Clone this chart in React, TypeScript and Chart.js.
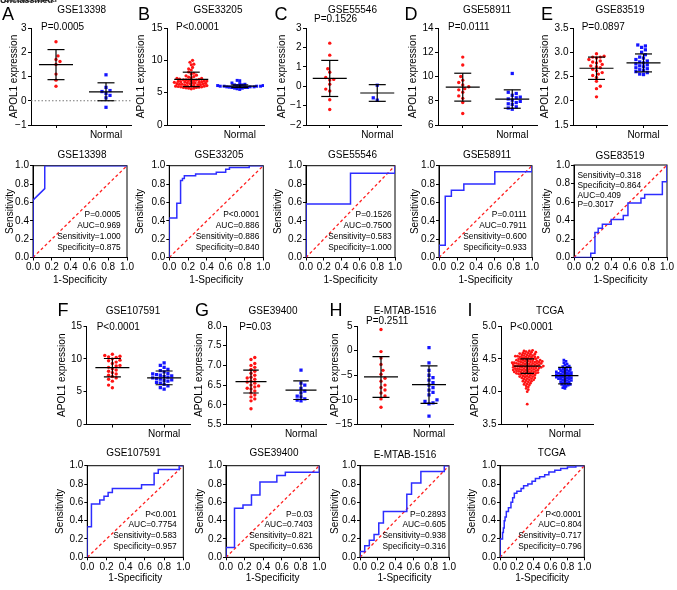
import React, { useEffect, useRef } from "react";
import { Chart, registerables } from "chart.js";
Chart.register(...registerables);

const FONT = "'Liberation Sans', Arial, Helvetica, sans-serif";
Chart.defaults.font.family = FONT;
Chart.defaults.font.size = 10;
Chart.defaults.color = "#000";

const RED = "#ff1414";
const BLUE = "#1414ff";
const LINE_BLUE = "#2d2dff";
const DIAG_RED = "#ff2020";

// ---------------- data ----------------
const datasetTitles = ["GSE13398", "GSE33205", "GSE55546", "GSE58911", "GSE83519", "GSE107591", "GSE39400", "E-MTAB-1516", "TCGA"];
const panelLetters = ["A", "B", "C", "D", "E", "F", "G", "H", "I"];
const pValues = ["P=0.0005", "P<0.0001", "P=0.1526", "P=0.0111", "P=0.0897", "P<0.0001", "P=0.03", "P=0.2511", "P<0.0001"];
const groupLabels = ["", "Normal"];

const tumorA = [2.43, 1.85, 1.7, 1.62, 1.5, 1.1, 0.85, 0.6];
const normalA = [1.07, 0.55, 0.42, 0.38, 0.3, 0.22, 0.12, -0.27];
const tumorB = [10.0, 9.7, 9.4, 9.3, 8.9, 8.7, 8.5, 8.2, 8.0, 7.9, 7.7, 7.6, 7.5, 7.4, 7.3, 7.2, 7.2, 7.1, 7.05, 7.0, 7.0, 6.95, 6.9, 6.9, 6.85, 6.8, 6.8, 6.75, 6.7, 6.7, 6.65, 6.6, 6.6, 6.55, 6.5, 6.5, 6.45, 6.4, 6.4, 6.35, 6.3, 6.3, 6.25, 6.2, 6.2, 6.15, 6.1, 6.1, 6.05, 6.0, 6.0, 5.95, 5.9, 5.9, 5.85, 5.8, 5.8, 5.75, 5.7, 5.7, 5.6];
const normalB = [6.9, 6.85, 6.5, 6.4, 6.3, 6.2, 6.2, 6.1, 6.1, 6.1, 6.0, 6.0, 6.0, 6.0, 5.95, 5.9, 5.9, 5.9, 5.85, 5.8, 5.8, 5.8, 5.7, 5.7, 5.6, 5.5];
const tumorC = [2.22, 1.6, 0.9, 0.72, 0.45, 0.35, 0.32, 0.1, -0.15, -0.25, -0.7, -1.2];
const normalC = [0.05, -0.6, -0.72];
const tumorD = [11.6, 10.95, 10.0, 9.7, 9.5, 9.3, 9.15, 9.0, 8.9, 8.7, 8.4, 8.2, 7.85, 6.95];
const normalD = [10.25, 8.7, 8.6, 8.45, 8.3, 8.25, 8.15, 8.05, 7.95, 7.85, 7.75, 7.7, 7.5, 7.4, 7.3];
const tumorE = [2.97, 2.92, 2.9, 2.9, 2.88, 2.85, 2.82, 2.8, 2.78, 2.75, 2.72, 2.7, 2.68, 2.65, 2.62, 2.58, 2.55, 2.52, 2.48, 2.4, 2.3, 2.25, 2.08];
const normalE = [3.15, 3.13, 3.1, 3.05, 3.0, 2.95, 2.9, 2.88, 2.85, 2.82, 2.8, 2.78, 2.76, 2.74, 2.72, 2.7, 2.68, 2.66, 2.64, 2.62, 2.6, 2.58, 2.55, 2.54];
const tumorF = [10.7, 10.5, 10.4, 10.3, 10.2, 10.0, 9.8, 9.7, 9.5, 9.3, 9.0, 8.9, 8.7, 8.5, 8.3, 8.1, 7.9, 7.7, 7.5, 7.3, 7.1, 6.9, 6.6, 6.0, 5.6];
const normalF = [9.4, 9.0, 8.7, 8.4, 8.2, 8.0, 7.8, 7.7, 7.6, 7.5, 7.4, 7.3, 7.2, 7.1, 7.0, 6.9, 6.8, 6.7, 6.6, 6.4, 6.3, 6.1, 5.9, 5.6, 5.4];
const tumorG = [7.2, 7.15, 7.05, 7.0, 6.95, 6.9, 6.85, 6.8, 6.75, 6.7, 6.68, 6.65, 6.6, 6.58, 6.55, 6.5, 6.48, 6.45, 6.42, 6.4, 6.35, 6.3, 6.25, 6.2, 6.15, 6.1, 5.9];
const normalG = [6.88, 6.55, 6.5, 6.42, 6.35, 6.3, 6.22, 6.2, 6.15, 6.12, 6.1];
const tumorH = [4.3, -0.2, -1.5, -2.8, -4.0, -4.8, -5.6, -6.2, -7.0, -7.5, -8.0, -8.6, -9.2, -9.8, -11.5];
const normalH = [0.6, -2.5, -4.0, -5.0, -5.5, -6.0, -6.5, -7.0, -7.5, -8.0, -8.5, -9.0, -10.0, -10.3, -10.6, -10.8, -13.3];
const tumorI = [
  4.63, 4.62, 4.62, 4.61, 4.6, 4.6,
  4.59, 4.59, 4.58, 4.58, 4.57, 4.57, 4.56, 4.56, 4.55, 4.55,
  4.54, 4.54, 4.54, 4.53, 4.53, 4.53, 4.52, 4.52, 4.52, 4.51, 4.51, 4.5, 4.5, 4.5,
  4.49, 4.49, 4.49, 4.48, 4.48, 4.48, 4.47, 4.47, 4.47, 4.46, 4.46, 4.46, 4.45, 4.45, 4.45, 4.45,
  4.44, 4.44, 4.44, 4.44, 4.43, 4.43, 4.43, 4.43, 4.42, 4.42, 4.42, 4.41, 4.41, 4.41, 4.41, 4.4, 4.4, 4.4,
  4.39, 4.39, 4.39, 4.39, 4.38, 4.38, 4.38, 4.38, 4.37, 4.37, 4.37, 4.36, 4.36, 4.36, 4.36, 4.35, 4.35, 4.35,
  4.34, 4.34, 4.34, 4.33, 4.33, 4.33, 4.33, 4.32, 4.32, 4.32, 4.31, 4.31, 4.31, 4.3, 4.3, 4.3,
  4.29, 4.29, 4.29, 4.28, 4.28, 4.28, 4.27, 4.27, 4.27, 4.26, 4.26, 4.25, 4.25,
  4.24, 4.24, 4.23, 4.23, 4.22, 4.22, 4.21, 4.21, 4.2, 4.2,
  4.19, 4.18, 4.18, 4.17, 4.16, 4.16, 4.15,
  4.14, 4.13, 4.12, 4.11, 4.1,
  4.09, 4.07, 4.05, 4.03, 4.0, 3.81,
];
const normalI = [
  4.48, 4.46, 4.44, 4.42, 4.41, 4.39, 4.38, 4.37, 4.36, 4.35,
  4.34, 4.34, 4.33, 4.32, 4.32, 4.31, 4.3, 4.3,
  4.29, 4.29, 4.28, 4.28, 4.27, 4.27, 4.26, 4.26, 4.25, 4.25,
  4.24, 4.24, 4.23, 4.23, 4.22, 4.22, 4.21, 4.21, 4.2, 4.2,
  4.19, 4.19, 4.18, 4.17, 4.17, 4.16, 4.15, 4.15,
  4.14, 4.13, 4.12, 4.11, 4.11, 4.1, 4.09, 4.08, 4.06, 4.05,
];

const tumorSets = [tumorA, tumorB, tumorC, tumorD, tumorE, tumorF, tumorG, tumorH, tumorI];
const normalSets = [normalA, normalB, normalC, normalD, normalE, normalF, normalG, normalH, normalI];
const meanTumor = [1.49, 7.05, 0.4, 9.12, 2.67, 8.65, 6.59, -5.35, 4.39];
const sdTumor = [0.62, 1.12, 0.93, 1.15, 0.23, 1.4, 0.29, 4.15, 0.11];
const meanNormal = [0.37, 6.0, -0.35, 8.14, 2.78, 7.1, 6.37, -6.9, 4.245];
const sdNormal = [0.37, 0.2, 0.43, 0.76, 0.185, 1.05, 0.235, 3.8, 0.125];
const referenceLine: (number | null)[] = [0, null, null, null, null, null, null, null, null];

// ROC curves (1-specificity, sensitivity)
const fprA = [0, 0, 0.125, 0.125, 1];
const tprA = [0, 0.625, 0.75, 1, 1];
const fprB = [0, 0, 0.08, 0.08, 0.12, 0.12, 0.14, 0.14, 0.16, 0.16, 0.28, 0.28, 0.5, 0.5, 0.6, 0.6, 0.64, 0.64, 0.85, 0.85, 1];
const tprB = [0, 0.43, 0.43, 0.59, 0.59, 0.84, 0.84, 0.86, 0.86, 0.89, 0.89, 0.91, 0.91, 0.93, 0.93, 0.96, 0.96, 0.98, 0.98, 1, 1];
const fprC = [0, 0, 0.5, 0.5, 1, 1];
const tprC = [0, 0.583, 0.583, 0.917, 0.917, 1];
const fprD = [0, 0, 0.067, 0.067, 0.133, 0.133, 0.267, 0.267, 0.6, 0.6, 1, 1];
const tprD = [0, 0.133, 0.133, 0.667, 0.667, 0.733, 0.733, 0.8, 0.8, 0.933, 0.933, 1];
const fprE = [0, 0.18, 0.18, 0.225, 0.225, 0.26, 0.26, 0.305, 0.305, 0.4, 0.4, 0.53, 0.53, 0.58, 0.58, 0.72, 0.72, 0.76, 0.76, 0.95, 0.95, 1, 1];
const tprE = [0, 0, 0.045, 0.045, 0.27, 0.27, 0.315, 0.315, 0.36, 0.36, 0.41, 0.41, 0.455, 0.455, 0.59, 0.59, 0.64, 0.64, 0.68, 0.68, 0.82, 0.82, 1];
const fprF = [0, 0, 0.043, 0.043, 0.13, 0.13, 0.174, 0.174, 0.217, 0.217, 0.261, 0.261, 0.565, 0.565, 0.696, 0.696, 0.739, 0.739, 0.957, 0.957, 1];
const tprF = [0, 0.333, 0.333, 0.583, 0.583, 0.625, 0.625, 0.667, 0.667, 0.708, 0.708, 0.75, 0.75, 0.792, 0.792, 0.917, 0.917, 0.958, 0.958, 1, 1];
const fprG = [0, 0, 0.091, 0.091, 0.182, 0.182, 0.273, 0.273, 0.364, 0.364, 0.545, 0.545, 0.636, 0.636, 1, 1];
const tprG = [0, 0.107, 0.107, 0.536, 0.536, 0.571, 0.571, 0.679, 0.679, 0.821, 0.821, 0.893, 0.893, 0.929, 0.929, 1];
const fprH = [0, 0, 0.053, 0.053, 0.105, 0.105, 0.158, 0.158, 0.211, 0.211, 0.263, 0.263, 0.526, 0.526, 0.579, 0.579, 0.684, 0.684, 0.947, 0.947, 1];
const tprH = [0, 0.0625, 0.0625, 0.125, 0.125, 0.1875, 0.1875, 0.25, 0.25, 0.375, 0.375, 0.5, 0.5, 0.6875, 0.6875, 0.8125, 0.8125, 0.9375, 0.9375, 1, 1];
const fprI = [0, 0, 0.03, 0.03, 0.04, 0.04, 0.05, 0.05, 0.06, 0.06, 0.075, 0.075, 0.1, 0.1, 0.13, 0.13, 0.15, 0.15, 0.17, 0.17, 0.2, 0.2, 0.25, 0.25, 0.28, 0.28, 0.33, 0.33, 0.38, 0.38, 0.42, 0.42, 0.47, 0.47, 0.53, 0.53, 0.58, 0.58, 0.65, 0.65, 0.72, 0.72, 0.8, 0.8, 0.9, 0.9, 1];
const tprI = [0, 0.2, 0.2, 0.27, 0.27, 0.32, 0.32, 0.4, 0.4, 0.44, 0.44, 0.5, 0.5, 0.54, 0.54, 0.6, 0.6, 0.65, 0.65, 0.7, 0.7, 0.72, 0.72, 0.75, 0.75, 0.78, 0.78, 0.8, 0.8, 0.83, 0.83, 0.86, 0.86, 0.88, 0.88, 0.9, 0.9, 0.93, 0.93, 0.95, 0.95, 0.97, 0.97, 0.985, 0.985, 1, 1];
const rocFpr = [fprA, fprB, fprC, fprD, fprE, fprF, fprG, fprH, fprI];
const rocTpr = [tprA, tprB, tprC, tprD, tprE, tprF, tprG, tprH, tprI];
const rocStats = [
  ["P=0.0005", "AUC=0.969", "Sensitivity=1.000", "Specificity=0.875"],
  ["P<0.0001", "AUC=0.886", "Sensitivity=0.886", "Specificity=0.840"],
  ["P=0.1526", "AUC=0.7500", "Sensitivity=0.583", "Specificity=1.000"],
  ["P=0.0111", "AUC=0.7911", "Sensitivity=0.600", "Specificity=0.933"],
  ["Sensitivity=0.318", "Specificity=0.864", "AUC=0.409", "P=0.3017"],
  ["P<0.001", "AUC=0.7754", "Sensitivity=0.583", "Specificity=0.957"],
  ["P=0.03", "AUC=0.7403", "Sensitivity=0.821", "Specificity=0.636"],
  ["P=0.2893", "AUC=0.605", "Sensitivity=0.938", "Specificity=0.316"],
  ["P<0.0001", "AUC=0.804", "Sensitivity=0.717", "Specificity=0.796"],
];
const rocTicks = [0, 0.2, 0.4, 0.6, 0.8, 1.0];

// ---------------- layout (page pixels) ----------------
type SL = { L: number; R: number; T: number; B: number; ymin: number; ymax: number; step: number; dec: number; yTitleX: number; titleX: number; titleY: number; pX: number; pY: number; centers: number[]; hm: number; d: number; rr: number; rb: number };
const scatterLayout: SL[] = [
  { L: 31, R: 131, T: 28, B: 125, ymin: -1, ymax: 3, step: 1, dec: 0, yTitleX: 14, titleX: 81.7, titleY: 10, pX: 41, pY: 27.7, centers: [0.5, 1.5], hm: 17, d: 4, rr: 1.7, rb: 2.3 },
  { L: 167, R: 264, T: 28, B: 125, ymin: 0, ymax: 15, step: 5, dec: 0, yTitleX: 140.7, titleX: 218, titleY: 10, pX: 176, pY: 27.7, centers: [0.5, 1.5], hm: 17, d: 2.6, rr: 1.6, rb: 2.1 },
  { L: 306, R: 401, T: 28, B: 125, ymin: -2, ymax: 3, step: 1, dec: 0, yTitleX: 282, titleX: 352.5, titleY: 10, pX: 314, pY: 19.3, centers: [0.5, 1.5], hm: 17, d: 4, rr: 1.7, rb: 2.3 },
  { L: 438, R: 537, T: 28, B: 125, ymin: 6, ymax: 14, step: 2, dec: 0, yTitleX: 413.3, titleX: 487, titleY: 10, pX: 448, pY: 27.7, centers: [0.5, 1.5], hm: 17, d: 4, rr: 1.7, rb: 2.3 },
  { L: 573, R: 667, T: 28, B: 125, ymin: 1.5, ymax: 3.5, step: 0.5, dec: 1, yTitleX: 545, titleX: 620, titleY: 10, pX: 581.7, pY: 27.7, centers: [0.5, 1.5], hm: 17, d: 3.8, rr: 1.7, rb: 2.3 },
  { L: 86.5, R: 190, T: 326, B: 424.5, ymin: 0, ymax: 15, step: 5, dec: 0, yTitleX: 61.7, titleX: 133, titleY: 311, pX: 96.7, pY: 327.3, centers: [0.5, 1.5], hm: 17, d: 3.8, rr: 1.7, rb: 2.3 },
  { L: 226, R: 326, T: 326, B: 424.5, ymin: 5.5, ymax: 8.0, step: 0.5, dec: 1, yTitleX: 199.3, titleX: 273, titleY: 311, pX: 239.3, pY: 327.3, centers: [0.5, 1.5], hm: 15.5, d: 3.8, rr: 1.7, rb: 2.3 },
  { L: 357, R: 453, T: 326, B: 424.5, ymin: -15, ymax: 5, step: 5, dec: 0, yTitleX: 335, titleX: 405, titleY: 311, pX: 366, pY: 321.7, centers: [0.5, 1.5], hm: 17, d: 4, rr: 1.7, rb: 2.3 },
  { L: 501, R: 593, T: 326, B: 424.5, ymin: 3.5, ymax: 5.0, step: 0.5, dec: 1, yTitleX: 475, titleX: 550, titleY: 311, pX: 510, pY: 327.3, centers: [0.57, 1.39], hm: 13.5, d: 2.15, rr: 1.4, rb: 1.9 },
];
type RL = { L: number; R: number; T: number; B: number; yTitleX: number; titleX: number; titleY: number; xTitleY: number; ann: "right" | "left"; off: number };
const rocLayout: RL[] = [
  { L: 33, R: 127, T: 165.7, B: 257.5, yTitleX: 10, titleX: 82, titleY: 155.7, xTitleY: 280, ann: "right", off: 6.3 },
  { L: 169.3, R: 263.3, T: 165.7, B: 257.5, yTitleX: 140.3, titleX: 219, titleY: 155.7, xTitleY: 280, ann: "right", off: 4 },
  { L: 306, R: 395, T: 165.7, B: 257.5, yTitleX: 278.3, titleX: 352.5, titleY: 155.7, xTitleY: 280, ann: "right", off: 3.3 },
  { L: 439, R: 532, T: 165.7, B: 257.5, yTitleX: 415, titleX: 487, titleY: 155.7, xTitleY: 280, ann: "right", off: 5.3 },
  { L: 574, R: 667, T: 165, B: 257.5, yTitleX: 546.7, titleX: 620, titleY: 156, xTitleY: 280, ann: "left", off: 3.5 },
  { L: 87.3, R: 183.3, T: 465.7, B: 557.3, yTitleX: 60, titleX: 133.5, titleY: 453.3, xTitleY: 577.7, ann: "right", off: 6.6 },
  { L: 226, R: 319.3, T: 465.7, B: 557.3, yTitleX: 200, titleX: 274, titleY: 453.3, xTitleY: 577.7, ann: "right", off: 6.6 },
  { L: 360, R: 449, T: 465.7, B: 557.3, yTitleX: 335, titleX: 405, titleY: 455.5, xTitleY: 577.7, ann: "right", off: 3 },
  { L: 500, R: 584.3, T: 465.7, B: 557.3, yTitleX: 471.7, titleX: 551.7, titleY: 453.3, xTitleY: 577.7, ann: "right", off: 2.6 },
];
const letterPos = [
  [8, 13.7], [144, 13.7], [281, 13.7], [411, 13.7], [547, 13.7],
  [63, 309.5], [202, 309.5], [336, 309.5], [470, 309.5],
];

// ---------------- helpers ----------------
type TextItem = { text: string; x: number; y: number; size: number; align: CanvasTextAlign };

function textPlugin(items: TextItem[], ox: number, oy: number) {
  return {
    id: "panelText",
    afterDraw(chart: any) {
      const ctx = chart.ctx as CanvasRenderingContext2D;
      ctx.save();
      for (const it of items) {
        ctx.font = `${it.size}px ${FONT}`;
        ctx.fillStyle = "#000";
        ctx.textAlign = it.align;
        ctx.textBaseline = "middle";
        ctx.fillText(it.text, it.x - ox, it.y - oy);
      }
      ctx.restore();
    },
  };
}

const boxPlugin = {
  id: "panelBox",
  beforeDatasetsDraw(chart: any) {
    const { ctx, chartArea } = chart;
    ctx.save();
    ctx.strokeStyle = "#000";
    ctx.lineWidth = 1;
    ctx.strokeRect(chartArea.left, chartArea.top, chartArea.right - chartArea.left, chartArea.bottom - chartArea.top);
    ctx.restore();
  },
};

function fmt(dec: number) {
  return (v: any) => {
    let n = Number(v);
    if (Math.abs(n) < 1e-9) n = 0;
    const s = n.toFixed(dec);
    return s.startsWith("-") ? "\u2212" + s.slice(1) : s;
  };
}

function swarm(vals: number[], cx: number, xPx: number, yPx: number, d: number) {
  const order = vals.map((_, k) => k).sort((a, b) => vals[a] - vals[b]);
  const placed: { x: number; y: number }[] = [];
  const res: { x: number; y: number }[] = new Array(vals.length);
  const s = d * 0.5;
  for (const k of order) {
    const py = vals[k] * yPx;
    const flip = placed.length % 2 === 1 ? -1 : 1;
    let off = 0;
    for (let n = 0; n < 600; n++) {
      const m = Math.ceil(n / 2);
      const cand = n === 0 ? 0 : (n % 2 ? m : -m) * s * flip;
      let ok = true;
      for (const p of placed) {
        const dy = p.y - py;
        if (Math.abs(dy) < d) {
          const dx = p.x - cand;
          if (dx * dx + dy * dy < d * d) {
            ok = false;
            break;
          }
        }
      }
      if (ok) {
        off = cand;
        break;
      }
    }
    placed.push({ x: off, y: py });
    res[k] = { x: cx + off / xPx, y: vals[k] };
  }
  return res;
}

const axisGrid = { drawOnChartArea: false, drawTicks: true, tickLength: 3, color: "#000", lineWidth: 1 };
const axisBorder = { display: true, color: "#000", width: 1 };

// ---------------- panels ----------------
function ScatterPanel({ k }: { k: number }) {
  const lay = scatterLayout[k];
  const left = Math.round(lay.yTitleX - 6);
  const top = Math.round(lay.titleY - 9);
  const width = Math.ceil(lay.R + 8 - left);
  const height = Math.ceil(lay.B + 18 - top);
  const ref = useRef<HTMLCanvasElement>(null);
  useEffect(() => {
    const padL = lay.L - left;
    const padT = lay.T - top;
    const padR = width - (lay.R - left);
    const axisH = height - (lay.B - top);
    const xPx = (lay.R - lay.L) / 2;
    const yPx = (lay.B - lay.T) / (lay.ymax - lay.ymin);
    const [c0, c1] = lay.centers;
    const seg = (pts: { x: number; y: number }[]) => ({
      data: pts, showLine: true, borderColor: "#000", borderWidth: 1.2, pointRadius: 0, fill: false, order: 1,
    });
    const bars = (c: number, m: number, s: number) => {
      const h = lay.hm / xPx;
      const h2 = lay.hm / 2 / xPx;
      return [
        seg([{ x: c - h, y: m }, { x: c + h, y: m }]),
        seg([{ x: c - h2, y: m + s }, { x: c + h2, y: m + s }]),
        seg([{ x: c - h2, y: m - s }, { x: c + h2, y: m - s }]),
        seg([{ x: c, y: m - s }, { x: c, y: m + s }]),
      ];
    };
    const datasets: any[] = [
      {
        data: swarm(tumorSets[k], c0, xPx, yPx, lay.d), pointStyle: "circle", pointRadius: lay.rr,
        pointBackgroundColor: RED, pointBorderColor: RED, pointBorderWidth: 0, backgroundColor: RED, order: 3,
      },
      {
        data: swarm(normalSets[k], c1, xPx, yPx, lay.d), pointStyle: "rect", pointRadius: lay.rb,
        pointBackgroundColor: BLUE, pointBorderColor: BLUE, pointBorderWidth: 0, backgroundColor: BLUE, order: 3,
      },
      ...bars(c0, meanTumor[k], sdTumor[k]),
      ...bars(c1, meanNormal[k], sdNormal[k]),
    ];
    const rl = referenceLine[k];
    if (rl !== null) {
      datasets.push({
        data: [{ x: 0, y: rl }, { x: 2, y: rl }], showLine: true, borderColor: "#777", borderWidth: 1,
        borderDash: [1.5, 2], pointRadius: 0, order: 5,
      });
    }
    const items: TextItem[] = [
      { text: datasetTitles[k], x: lay.titleX, y: lay.titleY, size: 10, align: "center" },
      { text: pValues[k], x: lay.pX, y: lay.pY, size: 10, align: "left" },
    ];
    const chart = new Chart(ref.current as HTMLCanvasElement, {
      type: "scatter",
      data: { datasets },
      plugins: [textPlugin(items, left, top)],
      options: {
        responsive: false, animation: false, events: [],
        layout: { padding: { left: 0, top: padT, right: padR, bottom: 0 } },
        plugins: { legend: { display: false }, tooltip: { enabled: false } },
        scales: {
          x: {
            type: "linear", min: 0, max: 2,
            afterBuildTicks: (s: any) => { s.ticks = lay.centers.map((v) => ({ value: v })); },
            afterFit: (s: any) => { s.height = axisH; },
            ticks: { callback: (_v: any, i: number) => groupLabels[i], autoSkip: false, maxRotation: 0, padding: 1, font: { size: 10 } },
            grid: axisGrid, border: axisBorder,
          },
          y: {
            type: "linear", min: lay.ymin, max: lay.ymax,
            afterFit: (s: any) => { s.width = padL; },
            ticks: { stepSize: lay.step, callback: fmt(lay.dec), padding: 1.5, font: { size: 10 } },
            grid: axisGrid, border: axisBorder,
            title: { display: true, text: "APOL1 expression", font: { size: 10 }, padding: 0 },
          },
        },
      } as any,
    });
    return () => chart.destroy();
  }, []);
  return <canvas ref={ref} width={width} height={height} style={{ position: "absolute", left, top, width, height, display: "block" }} />;
}

function RocPanel({ k }: { k: number }) {
  const lay = rocLayout[k];
  const left = Math.round(lay.yTitleX - 6);
  const top = Math.round(lay.titleY - 9);
  const width = Math.ceil(lay.R + 12 - left);
  const height = Math.round(lay.xTitleY + 6 - top);
  const ref = useRef<HTMLCanvasElement>(null);
  useEffect(() => {
    const padL = lay.L - left;
    const padT = lay.T - top;
    const padR = width - (lay.R - left);
    const axisH = height - (lay.B - top);
    const curve = rocFpr[k].map((x, i) => ({ x, y: rocTpr[k][i] }));
    const items: TextItem[] = [{ text: datasetTitles[k], x: lay.titleX, y: lay.titleY, size: 10, align: "center" }];
    const rightDy = [-43, -32.2, -21.2, -10.3];
    const leftDy = [10.7, 20.5, 30.3, 40.1];
    rocStats[k].forEach((t, i) => {
      if (lay.ann === "right") items.push({ text: t, x: lay.R - lay.off, y: lay.B + rightDy[i], size: 8.4, align: "right" });
      else items.push({ text: t, x: lay.L + lay.off, y: lay.T + leftDy[i], size: 8.4, align: "left" });
    });
    const chart = new Chart(ref.current as HTMLCanvasElement, {
      type: "scatter",
      data: {
        datasets: [
          { data: curve, showLine: true, borderColor: LINE_BLUE, borderWidth: 1.5, pointRadius: 0, fill: false, order: 1 },
          { data: [{ x: 0, y: 0 }, { x: 1, y: 1 }], showLine: true, borderColor: DIAG_RED, borderWidth: 1.3, borderDash: [3, 2.5], pointRadius: 0, fill: false, order: 2 },
        ],
      },
      plugins: [boxPlugin, textPlugin(items, left, top)],
      options: {
        responsive: false, animation: false, events: [],
        layout: { padding: { left: 0, top: padT, right: padR, bottom: 0 } },
        plugins: { legend: { display: false }, tooltip: { enabled: false } },
        scales: {
          x: {
            type: "linear", min: 0, max: 1,
            afterBuildTicks: (s: any) => { s.ticks = rocTicks.map((v) => ({ value: v })); },
            afterFit: (s: any) => { s.height = axisH; },
            ticks: { callback: fmt(1), autoSkip: false, maxRotation: 0, padding: 1, font: { size: 10 } },
            grid: axisGrid, border: axisBorder,
            title: { display: true, text: "1-Specificity", font: { size: 10 }, padding: 0 },
          },
          y: {
            type: "linear", min: 0, max: 1,
            afterBuildTicks: (s: any) => { s.ticks = rocTicks.map((v) => ({ value: v })); },
            afterFit: (s: any) => { s.width = padL; },
            ticks: { callback: fmt(1), padding: 1, font: { size: 10 } },
            grid: axisGrid, border: axisBorder,
            title: { display: true, text: "Sensitivity", font: { size: 10 }, padding: 0 },
          },
        },
      } as any,
    });
    return () => chart.destroy();
  }, []);
  return <canvas ref={ref} width={width} height={height} style={{ position: "absolute", left, top, width, height, display: "block" }} />;
}

export default function App() {
  const idx = [0, 1, 2, 3, 4, 5, 6, 7, 8];
  return (
    <div style={{ position: "absolute", left: 0, top: 0, width: 677, height: 590, background: "#fff", overflow: "hidden", fontFamily: FONT }}>
      {idx.map((k) => <ScatterPanel key={"s" + k} k={k} />)}
      {idx.map((k) => <RocPanel key={"r" + k} k={k} />)}
      {idx.map((k) => (
        <div key={"l" + k} style={{ position: "absolute", left: letterPos[k][0], top: letterPos[k][1], transform: "translate(-50%, -50%)", fontSize: 18, lineHeight: 1, color: "#000" }}>
          {panelLetters[k]}
        </div>
      ))}
      <div style={{ position: "absolute", left: 0, top: -4, fontSize: 9, fontWeight: "bold", lineHeight: 1, color: "#222", whiteSpace: "nowrap" }}>Unclassified</div>
      <div style={{ position: "absolute", left: 4, top: -5, fontSize: 9, fontWeight: "bold", lineHeight: 1, color: "#222", whiteSpace: "nowrap", opacity: 0.8 }}>Unclassified</div>
    </div>
  );
}
